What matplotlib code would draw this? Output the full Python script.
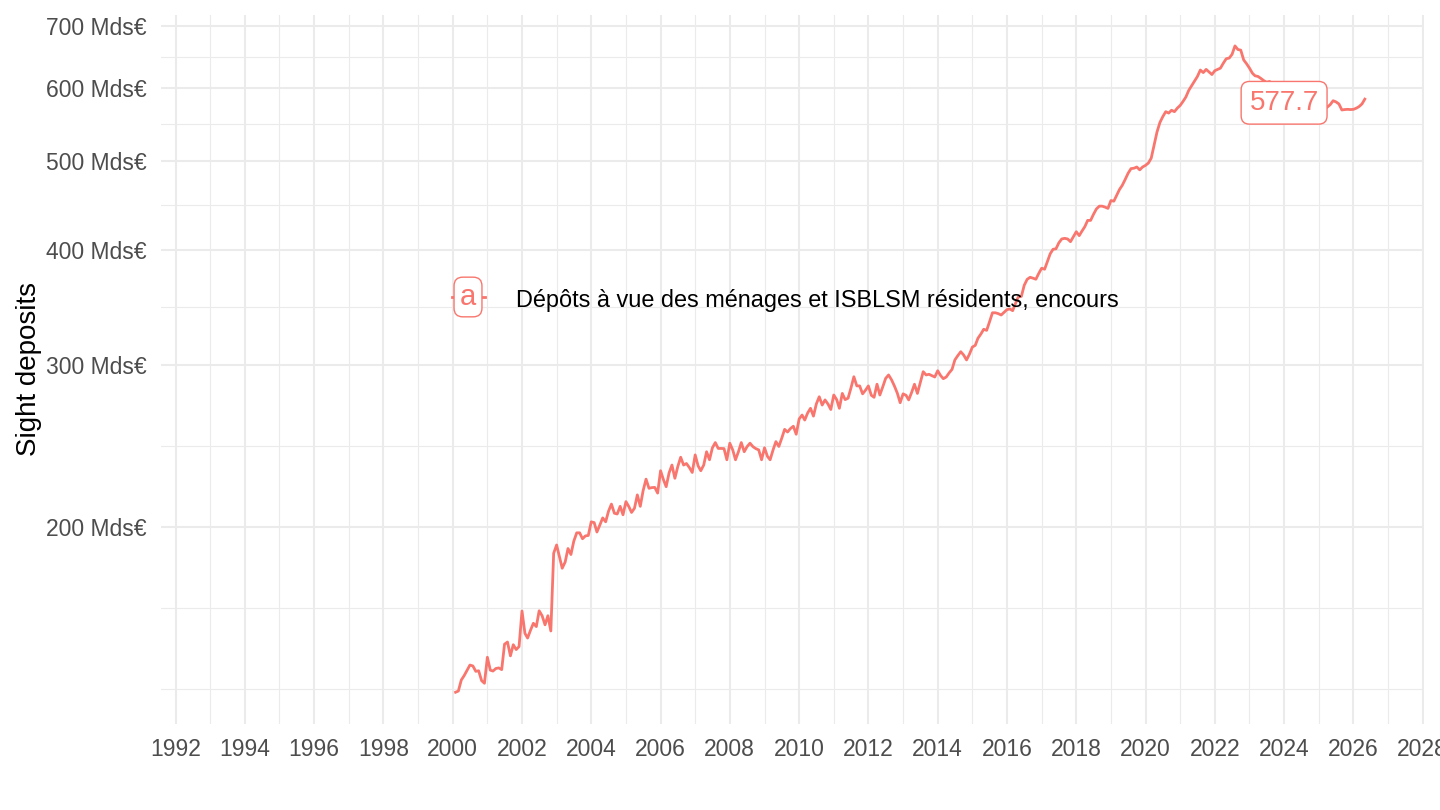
import numpy as np
import pandas as pd
import matplotlib
matplotlib.use('Agg')
from matplotlib import pyplot as plt
from matplotlib import dates as mdates
from matplotlib.lines import Line2D
from matplotlib.ticker import FixedLocator, NullFormatter, FuncFormatter

plt.rcParams['font.family'] = ['Liberation Sans', 'DejaVu Sans']

#%%# data: monthly sight deposits (Mds EUR), Feb 2000 -> Jun 2026 #%%#
startMonth = '2000-02-01'
seriesName = 'Dépôts à vue des ménages et ISBLSM résidents, encours'
seriesKey = 'a'
labelValue = 577.7
labelDate = '2024-01-01'

dep2000 = [132.3, 132.7, 136.4, 137.9, 139.8, 141.6, 141.3, 139.4, 139.6, 136.2, 135.3, 144.4]
dep2001 = [139.8, 139.5, 140.4, 140.6, 140.0, 149.2, 150.0, 144.9, 149.0, 147.2, 148.3, 162.1]
dep2002 = [153.3, 151.5, 154.5, 157.2, 155.9, 162.2, 160.2, 156.6, 160.2, 154.2, 187.3, 191.2]
dep2003 = [185.5, 180.4, 183.2, 189.5, 186.7, 193.0, 197.1, 197.1, 194.2, 195.6, 195.8, 202.6]
dep2004 = [202.2, 197.5, 201.0, 204.6, 202.6, 208.0, 211.8, 207.0, 206.6, 210.6, 206.2, 213.1]
dep2005 = [210.4, 207.4, 209.6, 216.7, 210.6, 219.0, 225.4, 220.3, 220.7, 220.8, 217.7, 230.2]
dep2006 = [225.0, 221.2, 229.0, 233.5, 225.9, 232.5, 238.1, 233.5, 234.4, 232.0, 229.2, 239.5]
dep2007 = [233.0, 230.2, 233.5, 241.4, 236.6, 243.7, 247.0, 243.4, 243.4, 243.3, 236.6, 246.6]
dep2008 = [242.5, 236.6, 241.4, 247.0, 241.4, 244.5, 246.6, 244.5, 243.3, 242.5, 236.6, 243.8]
dep2009 = [238.6, 236.6, 242.5, 247.6, 244.6, 249.6, 255.3, 253.6, 255.8, 257.3, 252.2, 262.0]
dep2010 = [264.6, 261.3, 266.0, 269.1, 263.9, 272.0, 277.0, 271.3, 274.8, 272.0, 268.3, 278.2]
dep2011 = [275.0, 269.1, 279.3, 275.0, 276.0, 283.0, 291.2, 284.6, 284.6, 279.0, 281.5, 284.6]
dep2012 = [278.0, 276.6, 285.8, 278.2, 284.0, 290.0, 292.5, 289.0, 284.6, 279.5, 272.9, 279.0]
dep2013 = [278.0, 274.8, 280.0, 285.8, 279.3, 287.0, 294.9, 292.5, 293.0, 292.0, 291.0, 295.6]
dep2014 = [292.0, 289.8, 291.0, 294.0, 296.6, 303.7, 307.0, 310.0, 307.5, 303.7, 308.0, 313.6]
dep2015 = [315.0, 320.6, 324.0, 327.9, 327.0, 334.0, 341.7, 341.7, 341.0, 339.8, 342.0, 344.4]
dep2016 = [345.0, 343.5, 350.0, 355.8, 356.0, 366.0, 371.5, 373.4, 372.6, 371.6, 377.0, 382.0]
dep2017 = [381.0, 388.0, 396.0, 400.5, 401.0, 407.0, 411.0, 411.6, 411.0, 408.2, 413.3, 418.5]
dep2018 = [414.4, 419.0, 423.8, 430.5, 430.5, 437.0, 443.0, 446.1, 446.1, 445.0, 443.6, 452.4]
dep2019 = [451.7, 458.0, 465.0, 470.0, 477.0, 484.3, 490.0, 490.5, 492.0, 488.5, 492.0, 494.0]
dep2020 = [497.0, 503.0, 520.0, 537.0, 550.0, 558.0, 565.0, 563.0, 567.0, 565.0, 570.0, 574.0]
dep2021 = [580.0, 586.0, 596.0, 603.0, 610.0, 617.0, 627.0, 623.0, 628.0, 624.0, 620.0, 626.0]
dep2022 = [628.0, 630.0, 638.0, 645.0, 646.0, 652.0, 666.0, 660.0, 659.0, 643.0, 637.0, 630.0]
dep2023 = [622.0, 618.0, 617.0, 614.0, 610.6, 608.0, 609.3, 605.0, 603.0, 598.0, 592.0, 585.0]
dep2024 = [582.0, 580.0, 584.0, 580.0, 578.0, 579.0, 576.0, 578.0, 575.0, 573.0, 570.0, 571.0]
dep2025 = [568.0, 568.3, 571.5, 575.0, 580.7, 579.0, 576.0, 567.4, 568.0, 568.3, 568.0, 568.3]
dep2026 = [570.0, 572.2, 576.0, 583.0]

yMajor = [200, 300, 400, 500, 600, 700]
yMinor = [133.3, 163.3, 244.9, 346.4, 447.2, 547.7, 648.1]

#%%# build series #%%#
values = (dep2000 + dep2001 + dep2002 + dep2003 + dep2004 + dep2005 + dep2006 +
          dep2007 + dep2008 + dep2009 + dep2010 + dep2011 + dep2012 + dep2013 +
          dep2014 + dep2015 + dep2016 + dep2017 + dep2018 + dep2019 + dep2020 +
          dep2021 + dep2022 + dep2023 + dep2024 + dep2025 + dep2026)
dates = pd.date_range(startMonth, periods=len(values), freq='MS')

lineCol = '#F8766D'
gridCol = '#EBEBEB'
textCol = '#4D4D4D'

#%%# plot #%%#
fig = plt.figure(figsize=(14.4, 8.1), dpi=100)
ax = fig.add_axes([161/1440, 1-724/810, (1424-161)/1440, (724-15)/810])

ax.plot(dates, values, color=lineCol, lw=2.0, zorder=3)

# log y axis with ggplot-like breaks
ax.set_yscale('log')
ax.set_ylim(122.2, 719.5)
ax.yaxis.set_major_locator(FixedLocator(yMajor))
ax.yaxis.set_minor_locator(FixedLocator(yMinor))
ax.yaxis.set_major_formatter(FuncFormatter(lambda v, p: f'{v:.0f} Mds€'))
ax.yaxis.set_minor_formatter(NullFormatter())

# x axis every 2 years, minor each year
ax.set_xlim(pd.Timestamp('1991-08-01'), pd.Timestamp('2028-01-15'))
ax.xaxis.set_major_locator(mdates.YearLocator(2))
ax.xaxis.set_minor_locator(mdates.YearLocator(1))
ax.xaxis.set_major_formatter(mdates.DateFormatter('%Y'))

ax.grid(which='major', color=gridCol, lw=1.5, zorder=0)
ax.grid(which='minor', color=gridCol, lw=0.8, zorder=0)
ax.set_axisbelow(True)
for s in ax.spines.values(): s.set_visible(False)
ax.tick_params(which='both', length=0)
ax.tick_params(axis='x', labelsize=16.5, labelcolor=textCol, pad=10)
ax.tick_params(axis='y', labelsize=16.5, labelcolor=textCol, pad=10)

ax.set_ylabel('Sight deposits', fontsize=20, color='black')
ax.yaxis.set_label_coords(-0.094, 0.5)

# value label
ax.text(pd.Timestamp(labelDate), labelValue, f'{labelValue}', fontsize=20, color=lineCol,
        ha='center', va='center', zorder=5,
        bbox=dict(boxstyle='round,pad=0.3,rounding_size=0.3', fc='white', ec=lineCol, lw=1.0))

# legend drawn inside the panel (no background)
keyY = 1 - 297/810
fig.add_artist(Line2D([452/1440, 485/1440], [keyY, keyY], color=lineCol, lw=2.0, zorder=4))
fig.text(468/1440, keyY, seriesKey, fontsize=21, color=lineCol, ha='center', va='center', zorder=5,
         bbox=dict(boxstyle='round,pad=0.2,rounding_size=0.3', fc='white', ec=lineCol, lw=1.0))
fig.text(516/1440, 1 - 300/810, seriesName, fontsize=16.9, color='black', ha='left', va='center', zorder=5)

fig.savefig('out.png', dpi=100)
